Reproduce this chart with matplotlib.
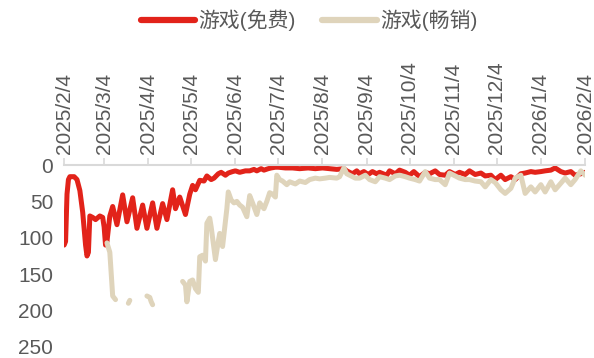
import datetime as dt

import matplotlib
matplotlib.use("Agg")
import matplotlib.pyplot as plt
import numpy as np

plt.rcParams["font.family"] = ["Liberation Sans", "Noto Sans CJK SC", "DejaVu Sans"]

START = dt.date(2025, 2, 4)

tick_dates = ["2025/2/4", "2025/3/4", "2025/4/4", "2025/5/4", "2025/6/4", "2025/7/4",
              "2025/8/4", "2025/9/4", "2025/10/4", "2025/11/4", "2025/12/4",
              "2026/1/4", "2026/2/4"]

# days since 2025/2/4 and rank values
free_days = [0, 1, 2, 3, 4, 7, 9, 11, 13, 15, 16, 17, 18, 20, 22, 25, 27, 28, 29, 30,
             32, 34, 37, 41, 44, 48, 51, 55, 58, 62, 65, 69, 72, 76, 78, 81, 85, 88,
             90, 92, 95, 98, 100, 103, 105, 108, 110, 113, 115, 118, 120, 123, 125,
             127, 130, 133, 135, 138, 140, 143, 145, 148, 150, 155, 160, 165, 171,
             176, 181, 186, 191, 196, 198, 202, 205, 207, 210, 213, 216, 219, 221,
             226, 228, 232, 235, 239, 242, 245, 249, 253, 256, 260, 263, 267, 270,
             274, 277, 281, 284, 288, 292, 295, 299, 302, 306, 309, 313, 316, 320,
             323, 327, 330, 334, 337, 341, 344, 348, 351, 355, 358, 362, 365]
free_rank = [110, 105, 40, 20, 16, 16, 20, 35, 65, 110, 125, 120, 70, 72, 75, 70, 72,
             85, 110, 105, 70, 57, 82, 41, 78, 45, 87, 55, 87, 52, 87, 53, 75, 34,
             60, 44, 68, 40, 28, 34, 21, 22, 15, 20, 18, 12, 10, 14, 11, 9, 8, 10, 9,
             8, 8, 6, 8, 5, 7, 5, 4, 3, 3, 4, 4, 5, 4, 5, 4, 5, 6, 5, 8, 12, 8, 12,
             9, 13, 9, 12, 10, 14, 8, 12, 7, 10, 14, 9, 16, 10, 12, 8, 13, 14, 9, 13,
             10, 13, 8, 13, 11, 15, 14, 20, 14, 20, 16, 20, 12, 11, 9, 10, 9, 8, 7,
             4, 9, 11, 9, 14, 12, 10]

nan = np.nan
paid_days = [30, 32, 33, 34, 36, 40, 45, 46, 52, 58, 60, 61, 62, 70, 83, 85, 86, 88,
             90, 92, 94, 95, 97, 99, 100, 102, 103, 104, 106, 108, 109, 111, 114,
             115, 117, 119, 121, 123, 125, 128, 130, 132, 135, 137, 140, 142, 144,
             146, 148, 149, 151, 153, 156, 158, 162, 165, 169, 172, 176, 179, 183,
             186, 191, 193, 196, 198, 200, 204, 207, 211, 214, 218, 221, 225, 228,
             232, 235, 239, 242, 246, 249, 253, 256, 260, 263, 267, 270, 274, 277,
             281, 284, 288, 292, 295, 299, 302, 306, 309, 313, 316, 320, 323, 327,
             330, 334, 337, 341, 344, 348, 351, 355, 358, 362, 365]
paid_rank = [107, 120, 150, 180, 185, nan, 190, 186, nan, 180, 182, 188, 192, nan,
             160, 165, 188, 160, 158, 170, 175, 126, 124, 132, 80, 73, 85, 100, 130,
             105, 94, 112, 60, 37, 48, 52, 50, 55, 58, 71, 42, 52, 68, 52, 60, 50,
             38, 40, 44, 14, 20, 22, 27, 23, 26, 22, 24, 20, 18, 19, 18, 17, 18, 16,
             4, 12, 14, 18, 18, 14, 20, 23, 16, 18, 20, 15, 14, 16, 18, 20, 22, 9,
             18, 20, 20, 27, 11, 15, 18, 20, 20, 22, 23, 30, 20, 24, 34, 39, 32, 18,
             14, 39, 30, 37, 27, 37, 23, 34, 25, 18, 27, 20, 8, 14]


def to_dates(days):
    return [START + dt.timedelta(days=d) for d in days]


def main():
    fig = plt.figure(figsize=(5.94, 3.58), dpi=100)
    ax = fig.add_axes([0.108, 0.031, 0.877, 0.508])

    ax.plot(to_dates(free_days), free_rank, color="#E2231A", linewidth=3.6,
            label="游戏(免费)", solid_capstyle="round", solid_joinstyle="round")
    ax.plot(to_dates(paid_days), paid_rank, color="#DFD4BB", linewidth=3.6,
            label="游戏(畅销)", solid_capstyle="round", solid_joinstyle="round")

    ticks = [dt.datetime.strptime(t, "%Y/%m/%d").date() for t in tick_dates]
    ax.set_xlim(ticks[0], ticks[-1])
    ax.set_xticks(ticks)
    ax.set_xticklabels(tick_dates, rotation=90)
    ax.xaxis.tick_top()

    ax.set_ylim(250, 0)
    ax.set_yticks([0, 50, 100, 150, 200, 250])

    for side in ["left", "right", "bottom"]:
        ax.spines[side].set_visible(False)
    ax.spines["top"].set_color("#D9D9D9")
    ax.spines["top"].set_linewidth(1.5)

    ax.tick_params(axis="x", colors="#D9D9D9", labelcolor="#595959", labelsize=15,
                   length=5, width=1.2, pad=3)
    ax.tick_params(axis="y", length=0, labelcolor="#595959", labelsize=15, pad=8)

    fig.legend(loc="center", bbox_to_anchor=(0.52, 0.944), ncol=2, frameon=False,
               fontsize=15, handlelength=2.6, handletextpad=0.15, columnspacing=1.3,
               labelcolor="#595959")
    for line in fig.legends[0].get_lines():
        line.set_linewidth(4.5)

    fig.savefig("out.png", dpi=100)


if __name__ == "__main__":
    main()
